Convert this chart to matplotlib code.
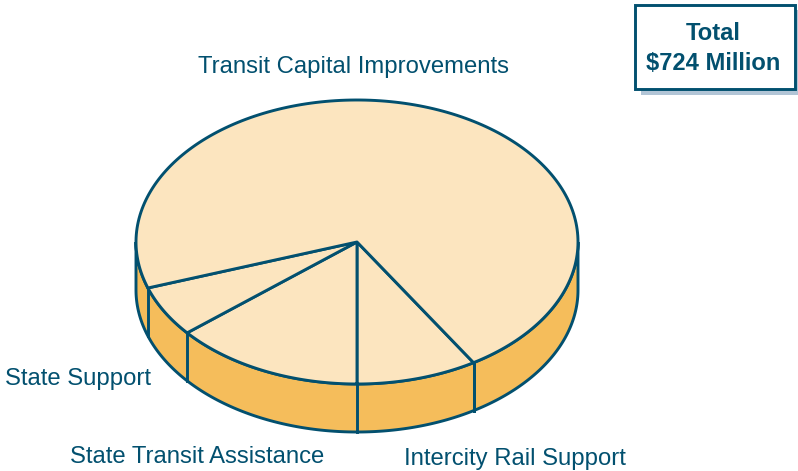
import matplotlib
matplotlib.use('Agg')
import matplotlib.pyplot as plt
from matplotlib.patches import Rectangle
import numpy as np

# Millions of dollars, clockwise seen from above, starting at the right edge of Intercity Rail
categories = ['Intercity Rail Support', 'State Transit Assistance', 'State Support', 'Transit Capital Improvements']
values = [64, 101, 42, 517]
total_lines = ['Total', '$724 Million']

label_pos = {
    'Intercity Rail Support': (515, 459),
    'State Transit Assistance': (197, 457),
    'State Support': (78, 379),
    'Transit Capital Improvements': (354, 67),
}

LINE = '#02506F'
TOP = '#FCE5BF'
SIDE = '#F5BD5B'
SHADOW = '#B2C5D6'

# Pie geometry in pixels
cx, cy = 357, 242
rx, ry = 221, 142
depth = 48

plt.rcParams['font.family'] = ['Liberation Sans', 'DejaVu Sans']

fig = plt.figure(figsize=(7.98, 4.71), dpi=100)
ax = fig.add_axes([0, 0, 1, 1])
ax.set_xlim(0, 798)
ax.set_ylim(471, 0)
ax.axis('off')


def rim(a):
    # a in radians, 0 is the front of the pie, positive towards the right
    return cx + rx * np.sin(a), cy + ry * np.cos(a)


# Boundaries: first slice ends at the very front of the pie
shares = np.array(values) / sum(values) * 2 * np.pi
edges = shares[0] - np.concatenate([[0], np.cumsum(shares)])

# Side wall, only the front half can be seen
a = np.linspace(-np.pi / 2, np.pi / 2, 200)
x, y = rim(a)
ax.fill(np.r_[x, x[::-1]], np.r_[y, y[::-1] + depth], facecolor=SIDE, edgecolor=LINE, lw=2.1, zorder=1)

# Top face, one wedge per slice
for i in range(len(values)):
    a = np.linspace(edges[i], edges[i + 1], 200)
    x, y = rim(a)
    ax.fill(np.r_[cx, x], np.r_[cy, y], facecolor=TOP, edgecolor=LINE, lw=2.1, joinstyle='round', zorder=2)

# Vertical edges on the wall
for e in edges:
    if abs(np.sin(e)) < 1 and np.cos(e) > 0:
        x, y = rim(e)
        ax.plot([x, x], [y, y + depth], color=LINE, lw=2.1, zorder=3)

for name in categories:
    lx, ly = label_pos[name]
    ax.text(lx, ly, name, color=LINE, fontsize=17.2, ha='center', va='center')

# Total box
ax.add_patch(Rectangle((641, 10), 157, 85, facecolor=SHADOW, edgecolor='none', zorder=4, clip_on=False))
ax.add_patch(Rectangle((634.5, 5), 160.5, 84, facecolor='white', edgecolor=LINE, lw=2.1, zorder=5))
ax.text(713, 34, total_lines[0], color=LINE, fontsize=17.1, fontweight='bold', ha='center', va='center', zorder=6)
ax.text(713, 63, total_lines[1], color=LINE, fontsize=17.1, fontweight='bold', ha='center', va='center', zorder=6)

fig.savefig('out.png', dpi=100)
